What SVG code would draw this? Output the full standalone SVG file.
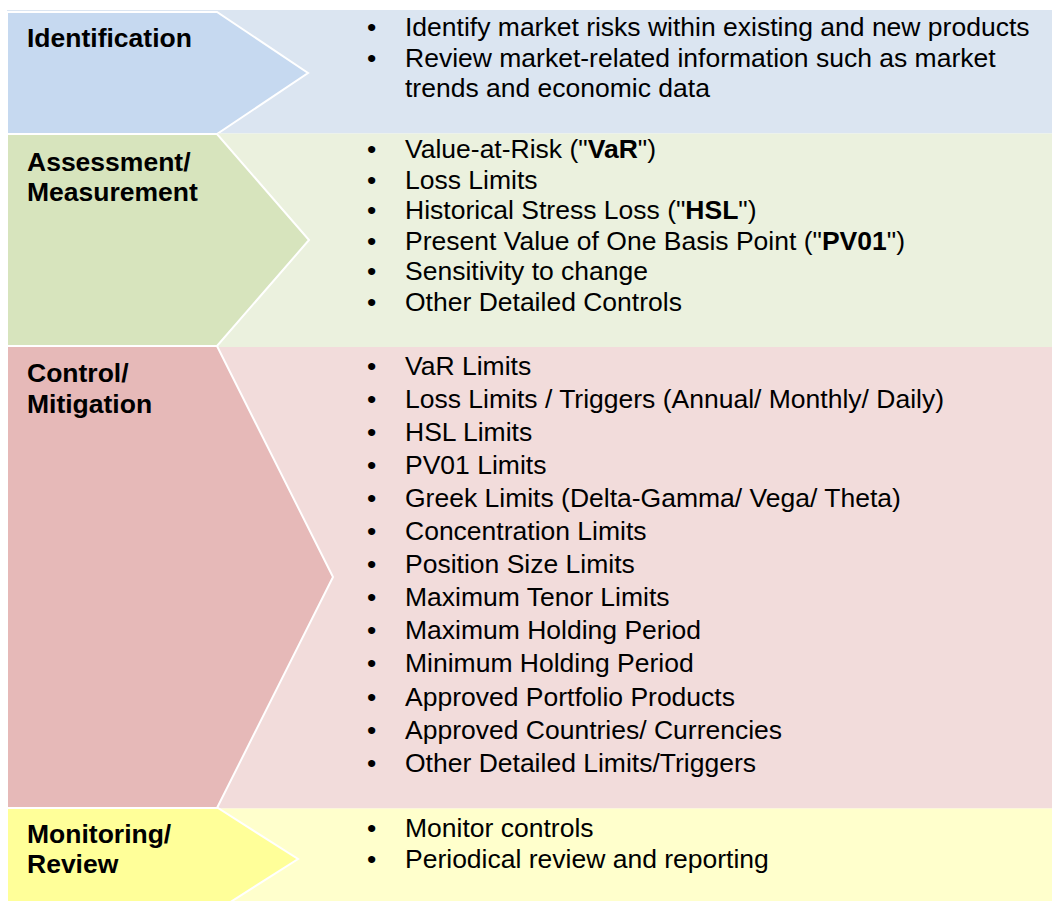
<svg xmlns="http://www.w3.org/2000/svg" width="1052" height="901" viewBox="0 0 1052 901">
  <style>
    .arrow { stroke: #ffffff; stroke-width: 2; stroke-linejoin: miter; }
    .label { font-family: "Liberation Sans", Arial, sans-serif; font-size: 26.5px; font-weight: bold; fill: #000000; }
    .item { font-family: "Liberation Sans", Arial, sans-serif; font-size: 26.5px; fill: #000000; }
    .b { font-weight: bold; }
  </style>
  <rect x="0" y="0" width="1052" height="901" fill="#ffffff"/>

  <!-- Stage 1: Identification -->
  <g id="identification">
    <rect x="7" y="10" width="1045" height="123.5" fill="#dbe5f1"/>
    <polygon class="arrow" points="7,12 217,12 308,73 217,134 7,134" fill="#c6d9f0"/>
    <text class="label" x="27" y="47">Identification</text>
    <g class="item">
      <text x="367" y="36">•</text>
      <text x="405" y="36">Identify market risks within existing and new products</text>
      <text x="367" y="66.5">•</text>
      <text x="405" y="66.5">Review market-related information such as market</text>
      <text x="405" y="97">trends and economic data</text>
    </g>
  </g>

  <!-- Stage 2: Assessment / Measurement -->
  <g id="assessment">
    <rect x="7" y="133.5" width="1045" height="213.5" fill="#ebf1de"/>
    <polygon class="arrow" points="7,134 217,134 309,240 217,346 7,346" fill="#d7e4bd"/>
    <text class="label" x="27" y="171">Assessment/</text>
    <text class="label" x="27" y="201">Measurement</text>
    <g class="item">
      <text x="367" y="158">•</text>
      <text x="405" y="158">Value-at-Risk ("<tspan class="b">VaR</tspan>")</text>
      <text x="367" y="188.5">•</text>
      <text x="405" y="188.5">Loss Limits</text>
      <text x="367" y="219">•</text>
      <text x="405" y="219">Historical Stress Loss ("<tspan class="b">HSL</tspan>")</text>
      <text x="367" y="249.5">•</text>
      <text x="405" y="249.5">Present Value of One Basis Point ("<tspan class="b">PV01</tspan>")</text>
      <text x="367" y="280">•</text>
      <text x="405" y="280">Sensitivity to change</text>
      <text x="367" y="310.5">•</text>
      <text x="405" y="310.5">Other Detailed Controls</text>
    </g>
  </g>

  <!-- Stage 3: Control / Mitigation -->
  <g id="control">
    <rect x="7" y="347" width="1045" height="461.5" fill="#f2dcdb"/>
    <polygon class="arrow" points="7,346 217,346 333,577 217,808 7,808" fill="#e6b9b8"/>
    <text class="label" x="27" y="382">Control/</text>
    <text class="label" x="27" y="413">Mitigation</text>
    <g class="item">
      <text x="367" y="374.5">•</text>
      <text x="405" y="374.5">VaR Limits</text>
      <text x="367" y="407.6">•</text>
      <text x="405" y="407.6">Loss Limits / Triggers (Annual/ Monthly/ Daily)</text>
      <text x="367" y="440.7">•</text>
      <text x="405" y="440.7">HSL Limits</text>
      <text x="367" y="473.8">•</text>
      <text x="405" y="473.8">PV01 Limits</text>
      <text x="367" y="506.9">•</text>
      <text x="405" y="506.9">Greek Limits (Delta-Gamma/ Vega/ Theta)</text>
      <text x="367" y="540">•</text>
      <text x="405" y="540">Concentration Limits</text>
      <text x="367" y="573.1">•</text>
      <text x="405" y="573.1">Position Size Limits</text>
      <text x="367" y="606.2">•</text>
      <text x="405" y="606.2">Maximum Tenor Limits</text>
      <text x="367" y="639.3">•</text>
      <text x="405" y="639.3">Maximum Holding Period</text>
      <text x="367" y="672.4">•</text>
      <text x="405" y="672.4">Minimum Holding Period</text>
      <text x="367" y="705.5">•</text>
      <text x="405" y="705.5">Approved Portfolio Products</text>
      <text x="367" y="738.6">•</text>
      <text x="405" y="738.6">Approved Countries/ Currencies</text>
      <text x="367" y="771.7">•</text>
      <text x="405" y="771.7">Other Detailed Limits/Triggers</text>
    </g>
  </g>

  <!-- Stage 4: Monitoring / Review -->
  <g id="monitoring">
    <rect x="7" y="808.5" width="1045" height="92.5" fill="#ffffcc"/>
    <polygon class="arrow" points="7,808 218,808 298,859 218,910 7,910" fill="#ffff99"/>
    <text class="label" x="27" y="843">Monitoring/</text>
    <text class="label" x="27" y="873">Review</text>
    <g class="item">
      <text x="367" y="837">•</text>
      <text x="405" y="837">Monitor controls</text>
      <text x="367" y="868">•</text>
      <text x="405" y="868">Periodical review and reporting</text>
    </g>
  </g>
</svg>
